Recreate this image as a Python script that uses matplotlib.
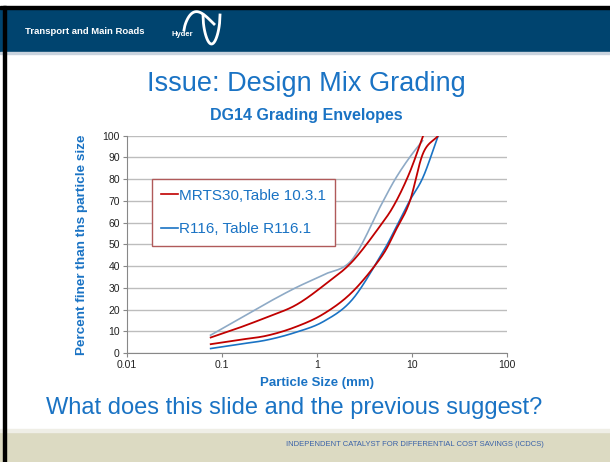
import numpy as np
import matplotlib
matplotlib.use("Agg")
import matplotlib.pyplot as plt
from matplotlib.patches import Rectangle
from matplotlib.lines import Line2D

plt.rcParams['font.family'] = ['Liberation Sans', 'DejaVu Sans']

# sieve sizes (mm) and percent passing
sieve = [0.075, 0.15, 0.3, 0.6, 1.18, 2.36, 4.75, 6.7, 9.5, 13.2, 19.0]
mrts_upper = [7, 11.5, 16.5, 22, 31, 42, 59, 69, 83, 100]
mrts_lower = [4, 6, 8, 12, 18, 28, 44, 56, 69.5, 92, 100]
r116_upper = [8, 15.5, 23, 30, 36, 43, 68, 80, 90, 98]
r116_lower = [2, 4, 6, 9.5, 14.5, 24.5, 45, 57, 70, 81, 100]

xticks = [0.01, 0.1, 1, 10, 100]
yticks = list(range(0, 101, 10))

BLUE = '#1a73c4'
RED = '#c00000'
LBLUE = '#8eaac6'


def smooth(xs, ys, n=20):
    # Catmull-Rom through the points, in log-x space (like an Excel smoothed line)
    lx = np.log10(np.array(xs, float))
    y = np.array(ys, float)
    px = np.concatenate([[2 * lx[0] - lx[1]], lx, [2 * lx[-1] - lx[-2]]])
    py = np.concatenate([[2 * y[0] - y[1]], y, [2 * y[-1] - y[-2]]])
    ox, oy = [], []
    t = np.linspace(0, 1, n, endpoint=False)
    for i in range(1, len(px) - 2):
        for arr, out in ((px, ox), (py, oy)):
            p0, p1, p2, p3 = arr[i - 1], arr[i], arr[i + 1], arr[i + 2]
            out.extend(0.5 * (2 * p1 + (-p0 + p2) * t
                              + (2 * p0 - 5 * p1 + 4 * p2 - p3) * t ** 2
                              + (-p0 + 3 * p1 - 3 * p2 + p3) * t ** 3))
    ox.append(lx[-1])
    oy.append(y[-1])
    return 10 ** np.array(ox), np.array(oy)


fig = plt.figure(figsize=(6.10, 4.62), dpi=100)
W, H = 610, 462


def box(x, y, w, h, c, z=0):
    # rectangle given in pixels from the top-left corner
    fig.patches.append(Rectangle((x / W, 1 - (y + h) / H), w / W, h / H,
                                 transform=fig.transFigure, color=c, zorder=z))


# slide background pieces
box(0, 9, W, 43, '#00446f')
box(0, 52, W, 2, '#c9d3de')
box(0, 432, W, 30, '#dcdac2')
box(0, 429, W, 3, '#efeee6')
box(0, 6, W, 3, 'black', 1)
box(3, 6, 3, H, 'black', 1)

fig.text(25 / W, 1 - 31.5 / H, 'Transport and Main Roads', color='white',
         fontsize=6.8, fontweight='bold', va='center')
# rough stand-in for the logo
fig.text(172 / W, 1 - 35 / H, 'Hyder', color='white', fontsize=5.5,
         fontweight='bold', va='center')
t = np.linspace(0, 1, 40)
fig.add_artist(Line2D((184 + 30 * t) / W,
                      1 - (30 - 16 * np.sin(np.pi * t ** 0.7) - 6 * t) / H,
                      color='white', lw=2))
fig.add_artist(Line2D((203 + 17 * t) / W,
                      1 - (15 + 29 * np.sin(np.pi * t) ** 0.5) / H,
                      color='white', lw=2))

fig.text(0.502, 1 - 84 / H, 'Issue: Design Mix Grading', color=BLUE,
         fontsize=19.5, ha='center', va='center')
fig.text(0.502, 1 - 115 / H, 'DG14 Grading Envelopes', color=BLUE,
         fontsize=11.5, fontweight='bold', ha='center', va='center')
fig.text(0.482, 1 - 408 / H, 'What does this slide and the previous suggest?',
         color=BLUE, fontsize=17, ha='center', va='center')
fig.text(415 / W, 1 - 445 / H,
         'INDEPENDENT CATALYST FOR DIFFERENTIAL COST SAVINGS (ICDCS)',
         color='#3a62a8', fontsize=5.5, ha='center', va='center')

ax = fig.add_axes([126.7 / W, 1 - 353 / H, 380 / W, 217.3 / H])
ax.set_xscale('log')
ax.set_xlim(0.01, 100)
ax.set_ylim(0, 100)

for xs, ys, c, lw in ((sieve[:len(r116_upper)], r116_upper, LBLUE, 1.2),
                      (sieve, r116_lower, BLUE, 1.2),
                      (sieve[:len(mrts_upper)], mrts_upper, RED, 1.3),
                      (sieve, mrts_lower, RED, 1.3)):
    sx, sy = smooth(xs, ys)
    ax.plot(sx, sy, color=c, lw=lw, solid_capstyle='butt')

ax.set_xticks(xticks)
ax.set_xticklabels(['0.01', '0.1', '1', '10', '100'])
ax.minorticks_off()
ax.set_yticks(yticks)
ax.tick_params(labelsize=7.5, length=3, color='#888888', labelcolor='#222222', pad=2)
ax.grid(axis='y', color='#bdbdbd', lw=1)
ax.set_axisbelow(True)
for s in ('top', 'right'):
    ax.spines[s].set_visible(False)
for s in ('left', 'bottom'):
    ax.spines[s].set_color('#888888')
ax.set_xlabel('Particle Size (mm)', color=BLUE, fontsize=9.5, fontweight='bold', labelpad=5)
ax.set_ylabel('Percent finer than ths particle size', color=BLUE, fontsize=9.7,
              fontweight='bold', labelpad=10)

handles = [Line2D([], [], color=RED, lw=1.2), Line2D([], [], color=BLUE, lw=1.2)]
leg = ax.legend(handles, ['MRTS30,Table 10.3.1', 'R116, Table R116.1'],
                loc='upper left', bbox_to_anchor=(0.066, 0.799), borderaxespad=0,
                fontsize=11, handlelength=1.1, handletextpad=0.05, labelspacing=1.3,
                borderpad=0.6, fancybox=False, framealpha=1, labelcolor=BLUE)
leg.get_frame().set_edgecolor('#b05a5a')
leg.get_frame().set_linewidth(1)

fig.savefig('out.png', dpi=100)
